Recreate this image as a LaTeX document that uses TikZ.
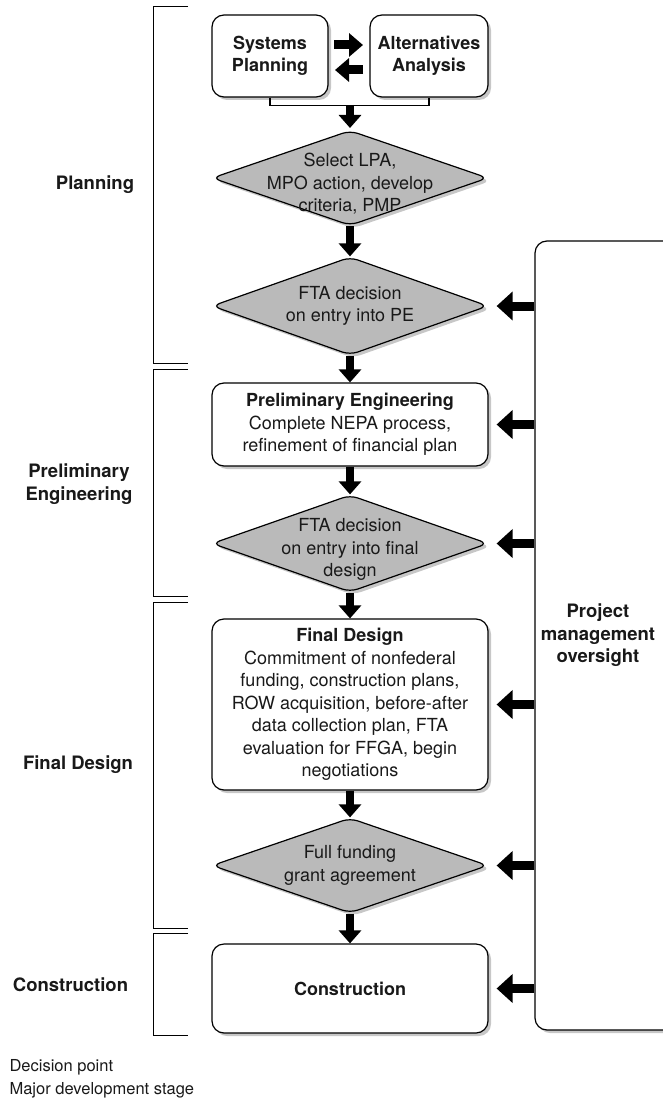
\documentclass[tikz,border=0pt]{standalone}
\usepackage{fontspec}
\setmainfont{TeX Gyre Heros}
\usetikzlibrary{arrows.meta,shapes.geometric,shadows}
\tikzset{
  soft shadow/.style={drop shadow={shadow xshift=3pt,shadow yshift=-3pt,fill=black!40,opacity=.55}},
  stage/.style={draw,line width=1.2pt,rounded corners=12pt,fill=white,align=center,
    inner sep=0pt,minimum width=276pt,soft shadow},
  decision/.style={diamond,draw,line width=1.2pt,rounded corners=8pt,fill=black!27,
    inner sep=0pt,minimum width=276pt,soft shadow},
  dtext/.style={align=center},
  flow/.style={-{Triangle[width=22pt,length=13pt]},line width=8pt},
  oversee/.style={-{Triangle[width=28pt,length=16pt]},line width=9pt,shorten >=8pt},
  phase/.style={font=\fontsize{18.5}{22.5}\selectfont\bfseries,align=center},
  bracket/.style={line width=1pt}
}
\begin{document}
\begin{tikzpicture}[x=1pt,y=-1pt,font=\fontsize{18}{22.5}\selectfont,text=black!90]
\useasboundingbox (0,0) rectangle (663,1107);
% flow
\node[stage,minimum width=116pt,minimum height=82pt] (sysplan) at (270,56) {\bfseries Systems\\\bfseries Planning};
\node[stage,minimum width=118pt,minimum height=82pt] (altanal) at (429,56) {\bfseries Alternatives\\\bfseries Analysis};
\node[decision,minimum height=95pt,label={[dtext,yshift=-6pt]center:Select LPA,\\MPO action, develop\\criteria, PMP}] (select) at (350,178) {};
\node[decision,minimum height=98pt,label={[dtext]center:FTA decision\\on entry into PE}] (fta1) at (350,306) {};
\node[stage,minimum height=83pt] (pe) at (350,424.5) {\bfseries Preliminary Engineering\\Complete NEPA process,\\refinement of financial plan};
\node[decision,minimum height=97pt,label={[dtext,yshift=-6pt]center:FTA decision\\on entry into final\\design}] (fta2) at (350,543.5) {};
\node[stage,minimum height=171pt] (fd) at (350,704.5) {\bfseries Final Design\\Commitment of nonfederal\\funding, construction plans,\\ROW acquisition, before-after\\data collection plan, FTA\\evaluation for FFGA, begin\\negotiations};
\node[decision,minimum height=95pt,label={[dtext]center:Full funding\\grant agreement}] (ffga) at (350,865.5) {};
\node[stage,minimum height=89pt] (constr) at (350,988.5) {\bfseries Construction};
\node[draw,line width=1.2pt,rounded corners=12pt,fill=white,soft shadow,minimum width=170pt,minimum height=789pt,
  label={[phase,xshift=-22pt]center:Project\\management\\oversight}] (pmo) at (620,635.5) {};
% arrows
\draw[-{Triangle[width=23pt,length=14pt]},line width=9pt] (334,45) -- (363,45);
\draw[-{Triangle[width=23pt,length=14pt]},line width=9pt] (363,70) -- (335,70);
\draw[line width=1.2pt] (sysplan.south) -- ++(0,8) coordinate (spj) -| (altanal.south);
\coordinate (join) at (350,105);
\draw[flow] (join) -- ++(0,23);
\draw[flow] (select.south) -- (fta1.north);
\draw[flow] (fta1.south) -- (pe.north);
\draw[flow] (pe.south) -- (fta2.north);
\draw[flow] (fta2.south) -- (fd.north);
\draw[flow] (fd.south) -- (ffga.north);
\draw[flow] (ffga.south) -- (constr.north);
\foreach \t in {fta1,pe,fta2,fd,ffga,constr}
  \draw[oversee] (pmo.west |- \t.east) -- (\t.east);
% phases
\draw[bracket] (188,7) -- (153,7) -- (153,363) -- (188,363);
\draw[bracket] (188,369) -- (153,369) -- (153,596) -- (188,596);
\draw[bracket] (188,602) -- (153,602) -- (153,928) -- (188,928);
\draw[bracket] (188,933) -- (153,933) -- (153,1035) -- (188,1035);
\node[phase] (lplan) at (95,185) {Planning};
\node[phase] (lpe) at (79,484) {Preliminary\\Engineering};
\node[phase] (lfd) at (78,765) {Final Design};
\node[phase] (lcon) at (70.5,985) {Construction};
% legend
\node[anchor=west,font=\fontsize{16.5}{20}\selectfont] (kdec) at (6,1067) {Decision point};
\node[anchor=west,font=\fontsize{16.5}{20}\selectfont] (kstage) at (6,1090) {Major development stage};
\end{tikzpicture}
\end{document}
